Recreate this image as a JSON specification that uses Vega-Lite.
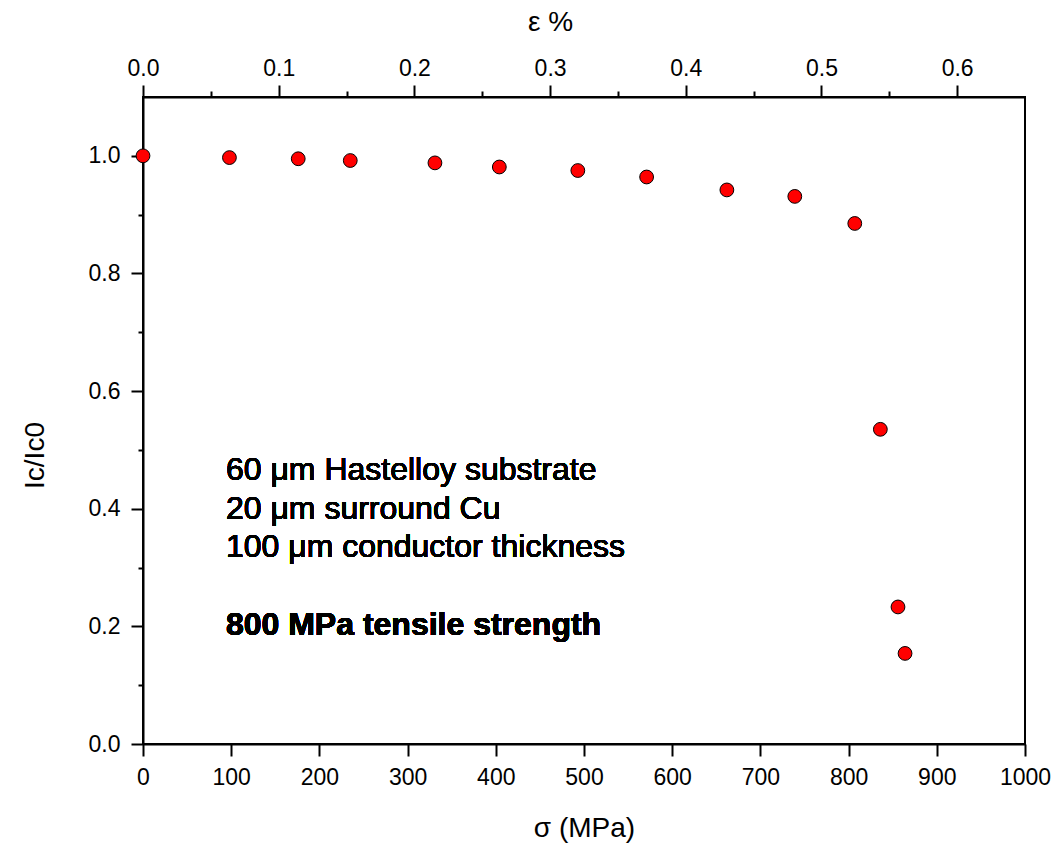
{
  "$schema": "https://vega.github.io/schema/vega-lite/v6.json",
  "autosize": "none",
  "width": 882,
  "height": 647,
  "padding": {"left": 143, "top": 97, "right": 32, "bottom": 101},
  "background": "white",
  "config": {
    "view": {"stroke": "black", "strokeWidth": 2},
    "font": "Liberation Sans",
    "axis": {
      "grid": false,
      "domainColor": "black",
      "domainWidth": 2,
      "tickColor": "black",
      "tickWidth": 2,
      "labelColor": "black",
      "titleColor": "black",
      "labelFont": "Liberation Sans",
      "titleFont": "Liberation Sans",
      "labelFontSize": 23,
      "titleFontSize": 28,
      "titleFontWeight": "normal"
    }
  },
  "resolve": {"scale": {"x": "independent"}},
  "layer": [
    {
      "data": {"name": "measurements", "values": [
        {"sigma": 0, "ic": 1.0},
        {"sigma": 98, "ic": 0.997},
        {"sigma": 176, "ic": 0.995},
        {"sigma": 235, "ic": 0.992},
        {"sigma": 331, "ic": 0.988},
        {"sigma": 404, "ic": 0.981},
        {"sigma": 493, "ic": 0.975},
        {"sigma": 571, "ic": 0.964},
        {"sigma": 662, "ic": 0.942},
        {"sigma": 739, "ic": 0.931},
        {"sigma": 807, "ic": 0.885},
        {"sigma": 836, "ic": 0.535},
        {"sigma": 856, "ic": 0.233},
        {"sigma": 864, "ic": 0.154}
      ]},
      "layer": [
        {
          "mark": {"type": "point", "shape": "circle", "filled": true, "fill": "#ff0000", "stroke": "black", "strokeWidth": 1, "size": 190, "opacity": 1},
          "encoding": {
            "x": {
              "field": "sigma", "type": "quantitative",
              "scale": {"domain": [0, 1000], "nice": false, "zero": false},
              "axis": {
                "orient": "bottom",
                "title": "σ (MPa)",
                "values": [0, 100, 200, 300, 400, 500, 600, 700, 800, 900, 1000],
                "format": "d",
                "tickSize": 12,
                "labelPadding": 10,
                "labelFlush": false,
                "labelOverlap": false,
                "titleY": 84,
                "titleBaseline": "middle"
              }
            },
            "y": {
              "field": "ic", "type": "quantitative",
              "scale": {"domain": [0, 1.1], "nice": false},
              "axis": {
                "title": "Ic/Ic0",
                "values": [0, 0.1, 0.2, 0.3, 0.4, 0.5, 0.6, 0.7, 0.8, 0.9, 1.0],
                "labelExpr": "round(datum.value*10) % 2 == 0 ? format(datum.value, '.1f') : ''",
                "tickSize": {"condition": {"test": "round(datum.value*10) % 2 == 0", "value": 12}, "value": 5},
                "labelPadding": 11,
                "labelFlush": false,
                "labelOverlap": false,
                "titleX": -108,
                "titleY": 358,
                "titleAngle": -90,
                "titleAlign": "center",
                "titleBaseline": "middle"
              }
            }
          }
        },
        {
          "mark": {"type": "text", "align": "left", "baseline": "middle", "fontSize": 32, "font": "Liberation Sans", "lineHeight": 38.5, "color": "black"},
          "encoding": {
            "x": {"datum": 94},
            "y": {"datum": 0.465},
            "text": {"value": ["60 μm Hastelloy substrate", "20 μm surround Cu", "100 μm conductor thickness"]}
          }
        },
        {
          "mark": {"type": "text", "align": "left", "baseline": "middle", "fontSize": 32, "fontWeight": "bold", "font": "Liberation Sans", "color": "black"},
          "encoding": {
            "x": {"datum": 94},
            "y": {"datum": 0.202},
            "text": {"value": "800 MPa tensile strength"}
          }
        }
      ]
    },
    {
      "data": {"name": "strain_axis", "values": [{"eps": 0}, {"eps": 0.65}]},
      "mark": {"type": "point", "opacity": 0},
      "encoding": {
        "x": {
          "field": "eps", "type": "quantitative",
          "scale": {"domain": [0, 0.65], "nice": false, "zero": false},
          "axis": {
            "orient": "top",
            "title": "ε %",
            "values": [0, 0.05, 0.1, 0.15, 0.2, 0.25, 0.3, 0.35, 0.4, 0.45, 0.5, 0.55, 0.6],
            "labelExpr": "round(datum.value*100) % 10 == 0 ? format(datum.value, '.1f') : ''",
            "tickSize": {"condition": {"test": "round(datum.value*100) % 10 == 0", "value": 12}, "value": 6},
            "labelPadding": 5,
            "labelFlush": false,
            "labelOverlap": false,
            "titleX": 407,
            "titleY": -75,
            "titleAlign": "center",
            "titleBaseline": "middle"
          }
        }
      }
    }
  ]
}
